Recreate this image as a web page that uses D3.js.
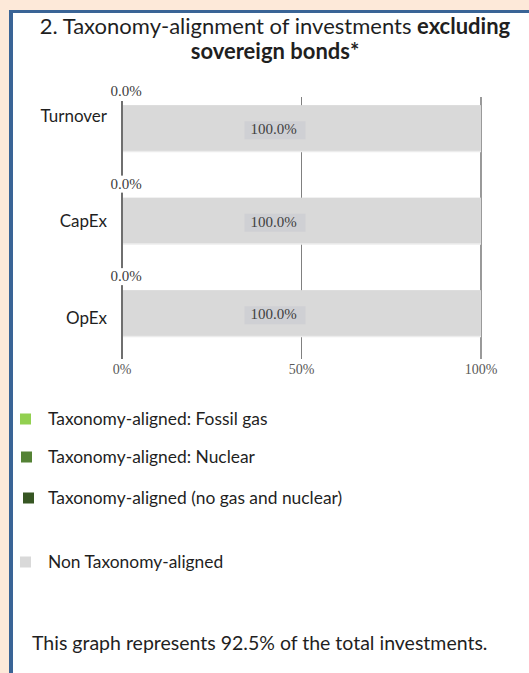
<!DOCTYPE html>
<html>
<head>
<meta charset="utf-8">
<script src="https://cdn.jsdelivr.net/npm/d3@7"></script>
<style>
  html, body { margin: 0; padding: 0; background: #fde9d9; }
  svg { display: block; }
</style>
</head>
<body>
<svg id="chart" width="529" height="673"></svg>
<script>
// data
const categories = ["Turnover", "CapEx", "OpEx"];
const alignedValues = [0, 0, 0];          // taxonomy-aligned share (labels 0.0%)
const nonAlignedValues = [100, 100, 100]; // non taxonomy-aligned share
const tickValues = [0, 50, 100];
const legendLabels = [
    "Taxonomy-aligned: Fossil gas",
    "Taxonomy-aligned: Nuclear",
    "Taxonomy-aligned (no gas and nuclear)",
    "Non Taxonomy-aligned"
];
const legendColors = ["#92d050", "#548235", "#375623", "#d9d9d9"];
const coverage = 92.5;

const sans = "Lato, 'Open Sans', sans-serif";
const serif = "'Liberation Serif', 'DejaVu Serif', serif";

const svg = d3.select("#chart");

// white panel with blue frame (top and left)
svg.append("rect").attr("x", 10).attr("y", 10).attr("width", 529).attr("height", 673).attr("fill", "#fff");
svg.append("rect").attr("x", 10).attr("y", 10).attr("width", 529).attr("height", 3).attr("fill", "#3a6496");
svg.append("rect").attr("x", 9).attr("y", 10).attr("width", 4).attr("height", 673).attr("fill", "#3a6496");

// title
const title = svg.append("text")
    .attr("text-anchor", "middle")
    .attr("font-family", sans)
    .attr("font-size", 22)
    .attr("fill", "#1f1f1f");
const t1 = title.append("tspan").attr("x", 275).attr("y", 34);
t1.append("tspan").text("2. Taxonomy-alignment of investments ");
t1.append("tspan").attr("font-weight", "bold").text("excluding");
title.append("tspan").attr("x", 275).attr("y", 59).attr("font-weight", "bold").text("sovereign bonds*");

// scales
const x = d3.scaleLinear().domain([0, 100]).range([122, 481]);
const y = d3.scaleBand().domain(categories).range([82, 359.5]).paddingInner(0.5).paddingOuter(0.25);

// gridlines at 50% and 100%
svg.append("g").selectAll("line")
    .data(tickValues.filter(d => d > 0))
    .enter().append("line")
    .attr("x1", d => x(d)).attr("x2", d => x(d))
    .attr("y1", 97).attr("y2", 359)
    .attr("stroke", "#808080")
    .attr("stroke-width", d => d === 100 ? 1.6 : 1);

// stacked bars: aligned segment then non-aligned
const rows = categories.map((c, i) => ({ cat: c, aligned: alignedValues[i], non: nonAlignedValues[i] }));

const bars = svg.append("g");
bars.selectAll(".non")
    .data(rows)
    .enter().append("rect")
    .attr("class", "non")
    .attr("x", d => x(d.aligned))
    .attr("y", d => y(d.cat))
    .attr("width", d => x(d.aligned + d.non) - x(d.aligned))
    .attr("height", y.bandwidth())
    .attr("fill", "#d9d9d9");
// faint lighter edge under each bar
bars.selectAll(".edge")
    .data(rows)
    .enter().append("line")
    .attr("x1", d => x(d.aligned)).attr("x2", d => x(d.aligned + d.non))
    .attr("y1", d => y(d.cat) + y.bandwidth()).attr("y2", d => y(d.cat) + y.bandwidth())
    .attr("stroke", "#ececec").attr("stroke-width", 1.5);

// left axis line
svg.append("line")
    .attr("x1", x(0)).attr("x2", x(0))
    .attr("y1", 101).attr("y2", 359)
    .attr("stroke", "#6f6f6f").attr("stroke-width", 2);

// 0.0% labels above each bar (with white backing that breaks the axis line)
const zeroLbl = svg.append("g").selectAll("g")
    .data(rows)
    .enter().append("g");
zeroLbl.append("rect")
    .attr("x", x(0) - 12).attr("y", d => y(d.cat) - 22)
    .attr("width", 32).attr("height", 17)
    .attr("fill", "#fff");
zeroLbl.append("text")
    .attr("x", x(0) + 4)
    .attr("y", d => y(d.cat) - 9)
    .attr("text-anchor", "middle")
    .attr("font-family", serif)
    .attr("font-size", 15)
    .attr("fill", "#404040")
    .text(d => d.aligned.toFixed(1) + "%");

// 100.0% labels inside bars
const nonLbl = svg.append("g").selectAll("g")
    .data(rows)
    .enter().append("g");
nonLbl.append("rect")
    .attr("x", d => x(d.aligned + d.non / 2) - 57)
    .attr("y", d => y(d.cat) + y.bandwidth() / 2 - 7)
    .attr("width", 61).attr("height", 18)
    .attr("fill", "#cfd0d4");
nonLbl.append("text")
    .attr("x", d => x(d.aligned + d.non / 2) - 28)
    .attr("y", d => y(d.cat) + y.bandwidth() / 2 + 6)
    .attr("text-anchor", "middle")
    .attr("font-family", serif)
    .attr("font-size", 15)
    .attr("fill", "#404040")
    .text(d => d.non.toFixed(1) + "%");

// category labels (offsets from bar centre as placed in the original)
const catShift = { Turnover: -6, CapEx: 6, OpEx: 11 };
svg.append("g").selectAll("text")
    .data(categories)
    .enter().append("text")
    .attr("x", 107)
    .attr("y", d => y(d) + y.bandwidth() / 2 + catShift[d])
    .attr("text-anchor", "end")
    .attr("font-family", sans)
    .attr("font-size", 17)
    .attr("fill", "#1f1f1f")
    .text(d => d);

// x tick labels
svg.append("g").selectAll("text")
    .data(tickValues)
    .enter().append("text")
    .attr("x", d => x(d))
    .attr("y", 374)
    .attr("text-anchor", "middle")
    .attr("font-family", serif)
    .attr("font-size", 14)
    .attr("fill", "#595959")
    .text(d => d + "%");

// legend
const legendY = [419, 457, 498, 562];
const legendSx = [20, 21, 23, 20];
const legend = svg.append("g").selectAll("g")
    .data(legendLabels)
    .enter().append("g");
legend.append("rect")
    .attr("x", (d, i) => legendSx[i])
    .attr("y", (d, i) => legendY[i] - 5.5)
    .attr("width", 11).attr("height", 11)
    .attr("fill", (d, i) => legendColors[i]);
legend.append("text")
    .attr("x", 48)
    .attr("y", (d, i) => legendY[i] + 6)
    .attr("font-family", sans)
    .attr("font-size", 17.4)
    .attr("fill", "#1f1f1f")
    .text(d => d);

// footnote
svg.append("text")
    .attr("x", 32)
    .attr("y", 650)
    .attr("font-family", sans)
    .attr("font-size", 19.5)
    .attr("fill", "#1f1f1f")
    .text(`This graph represents ${coverage}% of the total investments.`);
</script>
</body>
</html>
